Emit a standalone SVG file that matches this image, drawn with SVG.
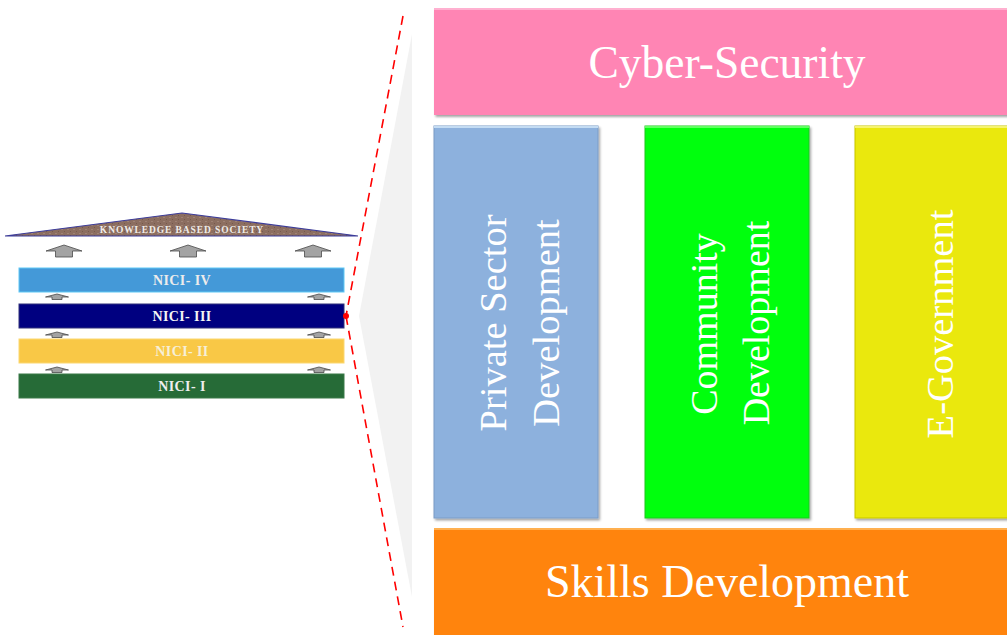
<svg xmlns="http://www.w3.org/2000/svg" width="1007" height="635" viewBox="0 0 1007 635">
<style>
.big{font-family:"Liberation Serif","Times New Roman",serif;fill:#ffffff;text-anchor:middle}
.nici{font-family:"Liberation Serif","Times New Roman",serif;font-weight:bold;font-size:14px;letter-spacing:0.4px;text-anchor:middle}
.arr{fill:#a3a3a3;stroke:#4a4a4a;stroke-width:0.8}
.dash{fill:none;stroke:#ff0000;stroke-width:1.6;stroke-dasharray:9 6}
</style>
<defs>
<filter id="sh" x="-5%" y="-5%" width="110%" height="110%">
<feDropShadow dx="1.5" dy="2" stdDeviation="1.2" flood-color="#000" flood-opacity="0.35"/>
</filter>
<pattern id="wood" width="6" height="4" patternUnits="userSpaceOnUse">
<rect width="6" height="4" fill="#8c6e60"/>
<rect x="1" y="1" width="2" height="1" fill="#9f8274"/>
<rect x="4" y="3" width="1" height="1" fill="#75594c"/>
</pattern>
<path id="bigArrow" d="M0,0 L18,6 L8.5,6 L8.5,12 L-8.5,12 L-8.5,6 L-18,6 Z"/>
<path id="smallArrow" d="M0,0 L11.5,3 L5,3 L5,5.5 L-5,5.5 L-5,3 L-11.5,3 Z"/>
</defs>
<rect width="1007" height="635" fill="#ffffff"/>

<!-- gray wedge -->
<polygon points="412,34 359,316 412,597" fill="#f2f2f2"/>

<!-- left pyramid -->
<g id="roof">
<polygon points="5,236 182,213 358,236" fill="url(#wood)" stroke="#3c3c9a" stroke-width="1.2"/>
<text x="182" y="233" font-family="'Liberation Serif','Times New Roman',serif" font-weight="bold" font-size="9.5" letter-spacing="0.9" fill="#f0ece8" text-anchor="middle">KNOWLEDGE BASED SOCIETY</text>
</g>
<g id="arrows-big">
<use href="#bigArrow" x="64" y="245" class="arr"/>
<use href="#bigArrow" x="188" y="245" class="arr"/>
<use href="#bigArrow" x="313" y="245" class="arr"/>
</g>
<g id="nici4">
<rect x="19" y="268" width="325" height="24" fill="#4499d8" stroke="#5ec8f5" stroke-width="1"/>
<text x="182" y="285" class="nici" fill="#ececec">NICI- IV</text>
</g>
<g id="arrows-small">
<use href="#smallArrow" x="57" y="294" class="arr"/>
<use href="#smallArrow" x="319" y="294" class="arr"/>
<use href="#smallArrow" x="57" y="332" class="arr"/>
<use href="#smallArrow" x="319" y="332" class="arr"/>
<use href="#smallArrow" x="57" y="367" class="arr"/>
<use href="#smallArrow" x="319" y="367" class="arr"/>
</g>
<g id="nici3">
<rect x="19" y="304" width="325" height="24" fill="#000080" stroke="#30307a" stroke-width="1"/>
<text x="182" y="321" class="nici" fill="#f4f4f4">NICI- III</text>
</g>
<g id="nici2">
<rect x="19" y="339" width="325" height="24" fill="#f9c846" stroke="#fbd770" stroke-width="1"/>
<text x="182" y="356" class="nici" fill="#f6efd8">NICI- II</text>
</g>
<g id="nici1">
<rect x="19" y="374" width="325" height="24" fill="#266b37" stroke="#3a7a48" stroke-width="1"/>
<text x="182" y="391" class="nici" fill="#eeeeee">NICI- I</text>
</g>

<!-- connectors -->
<g id="connectors">
<line x1="403" y1="16" x2="346" y2="316" class="dash"/>
<line x1="346" y1="316" x2="403" y2="627" class="dash"/>
<circle cx="346" cy="316" r="3" fill="#ff0000"/>
</g>

<!-- right pillars -->
<g id="cyber">
<rect x="434" y="8" width="590" height="107" fill="#ff85b4" filter="url(#sh)"/>
<rect x="434" y="8" width="590" height="2" fill="#ffb0d0"/>
<text x="727" y="78" class="big" style="font-size:45.5px">Cyber-Security</text>
</g>
<g id="private">
<rect x="434" y="126" width="164" height="392" fill="#8db1dd" stroke="#7a9cc6" stroke-width="1" filter="url(#sh)"/>
<rect x="434" y="126" width="164" height="2" fill="#c4dcf3"/>
<text transform="translate(506,323) rotate(-90)" class="big" style="font-size:38.5px">Private Sector</text>
<text transform="translate(559,323) rotate(-90)" class="big" style="font-size:38.5px">Development</text>
</g>
<g id="community">
<rect x="645" y="126" width="164" height="392" fill="#00ff0d" stroke="#22c822" stroke-width="1" filter="url(#sh)"/>
<rect x="645" y="126" width="164" height="2" fill="#60ff60"/>
<text transform="translate(717,324) rotate(-90)" class="big" style="font-size:38px">Community</text>
<text transform="translate(769,323) rotate(-90)" class="big" style="font-size:38px">Development</text>
</g>
<g id="egov">
<rect x="855" y="126" width="170" height="392" fill="#eae80a" stroke="#c8c600" stroke-width="1" filter="url(#sh)"/>
<rect x="855" y="126" width="170" height="2" fill="#f6f470"/>
<text transform="translate(953,324) rotate(-90)" class="big" style="font-size:38.5px">E-Government</text>
</g>
<g id="skills">
<rect x="434" y="528" width="590" height="115" fill="#ff8409" filter="url(#sh)"/>
<rect x="434" y="528" width="590" height="2" fill="#ffb050"/>
<text x="727" y="597" class="big" style="font-size:46px">Skills Development</text>
</g>
</svg>
